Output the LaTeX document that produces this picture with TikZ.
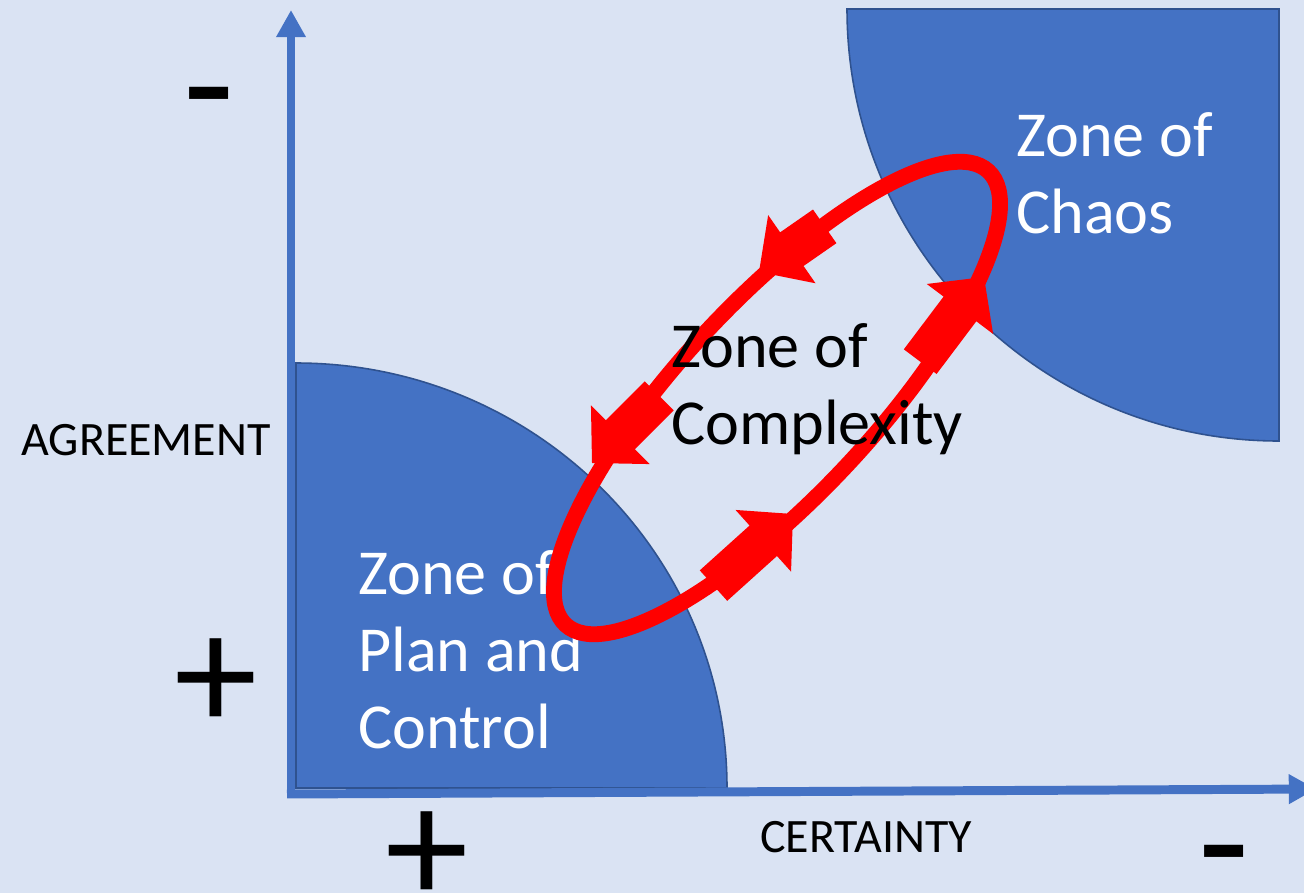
\documentclass[tikz,border=0pt]{standalone}
\usepackage{fontspec}
\setmainfont{Carlito}
\usepackage{xcolor}
\usetikzlibrary{arrows.meta,calc}

\definecolor{bgblue}{HTML}{DAE3F3}
\definecolor{zoneblue}{HTML}{4472C4}
\definecolor{zoneedge}{HTML}{2F528F}
\definecolor{loopred}{HTML}{FF0000}

\tikzset{
  flowarrow/.pic={\fill[loopred] (0,0) -- (-40,41.5) -- (-40,20.5) -- (-40-#1,20.5)
    -- (-40-#1,-20.5) -- (-40,-20.5) -- (-40,-41.5) -- cycle;}
}

\begin{document}
\begin{tikzpicture}[
    x=0.02cm,y=-0.02cm,
    zone/.style={fill=zoneblue,draw=zoneedge,line width=0.9pt},
    axis/.style={draw=zoneblue,line width=5.1pt,-{Triangle[length=15.5pt,width=16pt]}},
    zonetext/.style={anchor=base west,align=left,inner sep=0pt,font=\fontsize{36.5}{43.7}\selectfont},
    axislabel/.style={anchor=base west,inner sep=0pt,font=\fontsize{27.3}{32}\selectfont},
    sign/.style={anchor=base,inner sep=0pt,font=\fontsize{95}{95}\selectfont},
    loop/.style={draw=loopred,line width=9pt}
]
\useasboundingbox (0,0) rectangle (1304,893);
\fill[bgblue] (0,0) rectangle (1304,893);
\clip (0,0) rectangle (1304,893);

% Zones
\path[zone] (296,788) -- (296,363) arc[start angle=270,end angle=360,x radius=431,y radius=425] -- cycle;
\path[zone] (847,9) arc[start angle=180,end angle=90,x radius=432,y radius=432] -- (1279,9) -- cycle;
\node[zonetext,text=white] (plan) at (358,748) {Zone of\\Plan and\\Control};
\node[zonetext,text=white] (chaos) at (1016,233) {Zone of\\Chaos};

% Axes
\coordinate (origin) at (291,794);
\coordinate (ytip) at (291,10);
\coordinate (xtip) at (1316,789);
\draw[axis] ($(origin)+(0,3)$) -- (ytip);
\draw[axis] ($(origin)+(-4,0)$) -- (xtip);

% Cycle through complexity
\draw[loop,rotate around={47:(777,398)}] (777,398) ellipse[x radius=310,y radius=97];
\pic[rotate=214.8] at (759,272) {flowarrow=40};
\pic[rotate=225] at (592,463) {flowarrow=55};
\pic[rotate=42] at (793,514) {flowarrow=67};
\pic[rotate=53] at (984,277) {flowarrow=66};
\node[zonetext] (complexity) at (671,444) {Zone of\\Complexity};

% Axis labels and signs
\node[axislabel] (agreement) at (21,455) {AGREEMENT};
\node[axislabel] (certainty) at (760,852) {CERTAINTY};
\node[sign] (minusy) at (209,140) {-};
\node[sign] (plusy) at (216,730) {+};
\node[sign] (plusx) at (427,903) {+};
\node[sign] (minusx) at (1224,898) {-};
\end{tikzpicture}
\end{document}
